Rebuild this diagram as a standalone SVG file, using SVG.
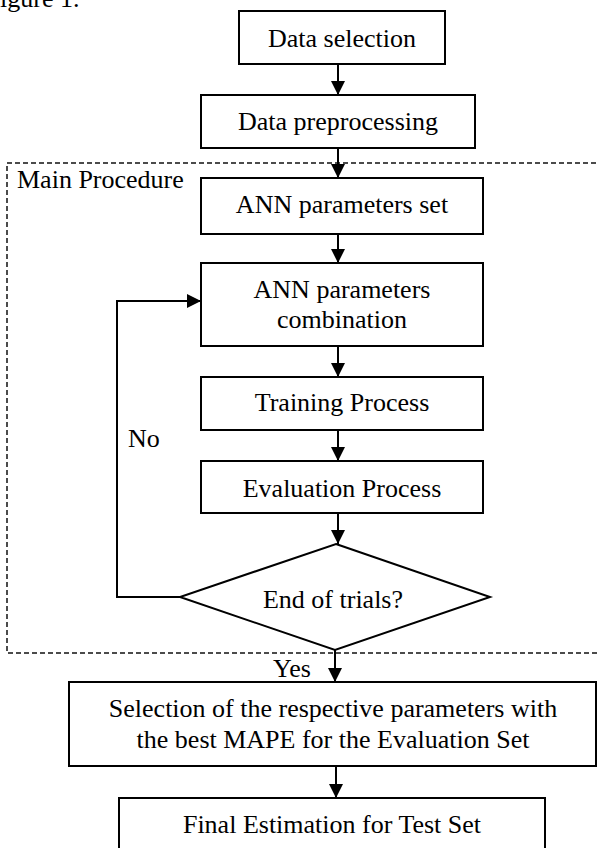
<svg xmlns="http://www.w3.org/2000/svg" width="599" height="848" viewBox="0 0 599 848">
  <style>
    text { font-family: "Liberation Serif", "Times New Roman", serif; font-size: 26px; fill: #000; }
    .mid { text-anchor: middle; }
    .box { fill: #fff; stroke: #000; stroke-width: 2; }
    .conn { fill: none; stroke: #000; stroke-width: 2; }
    .dash { fill: none; stroke: #111; stroke-width: 1.5; stroke-dasharray: 5 3; }
  </style>
  <defs>
    <marker id="arrow" viewBox="0 0 14 14" refX="14" refY="7" markerWidth="14" markerHeight="14" markerUnits="userSpaceOnUse" orient="auto">
      <path d="M0,0 L14,7 L0,14 z" fill="#000"/>
    </marker>
  </defs>
  <rect width="599" height="848" fill="#fff"/>

  <text x="0" y="7">igure 1.</text>

  <g id="main-procedure">
    <rect class="dash" x="7" y="163" width="610" height="490"/>
    <text x="17" y="188">Main Procedure</text>
  </g>

  <g id="connectors">
    <line class="conn" x1="338" y1="64" x2="338" y2="95" marker-end="url(#arrow)"/>
    <line class="conn" x1="338" y1="148" x2="338" y2="178" marker-end="url(#arrow)"/>
    <line class="conn" x1="338" y1="234" x2="338" y2="263" marker-end="url(#arrow)"/>
    <line class="conn" x1="338" y1="346" x2="338" y2="377" marker-end="url(#arrow)"/>
    <line class="conn" x1="338" y1="430" x2="338" y2="461" marker-end="url(#arrow)"/>
    <line class="conn" x1="338" y1="513" x2="338" y2="544" marker-end="url(#arrow)"/>
    <line class="conn" x1="335" y1="650" x2="335" y2="682" marker-end="url(#arrow)"/>
    <line class="conn" x1="336" y1="766" x2="336" y2="798" marker-end="url(#arrow)"/>
    <polyline class="conn" points="180,597 117,597 117,301 201,301" marker-end="url(#arrow)"/>
    <text x="128" y="447">No</text>
    <text x="273" y="677">Yes</text>
  </g>

  <g id="data-selection">
    <rect class="box" x="239" y="11" width="206" height="53"/>
    <text class="mid" x="342" y="47">Data selection</text>
  </g>
  <g id="data-preprocessing">
    <rect class="box" x="201" y="95" width="274" height="53"/>
    <text class="mid" x="338" y="130">Data preprocessing</text>
  </g>
  <g id="ann-parameters-set">
    <rect class="box" x="201" y="178" width="282" height="56"/>
    <text class="mid" x="342" y="213">ANN parameters set</text>
  </g>
  <g id="ann-parameters-combination">
    <rect class="box" x="201" y="263" width="282" height="83"/>
    <text class="mid" x="342" y="298">ANN parameters</text>
    <text class="mid" x="342" y="328">combination</text>
  </g>
  <g id="training-process">
    <rect class="box" x="201" y="377" width="282" height="53"/>
    <text class="mid" x="342" y="411">Training Process</text>
  </g>
  <g id="evaluation-process">
    <rect class="box" x="201" y="461" width="282" height="52"/>
    <text class="mid" x="342" y="497">Evaluation Process</text>
  </g>
  <g id="end-of-trials">
    <polygon class="box" points="336,544 490,597 335,650 180,597"/>
    <text class="mid" x="333" y="608">End of trials?</text>
  </g>
  <g id="selection-best">
    <rect class="box" x="69" y="682" width="527" height="84"/>
    <text class="mid" x="333" y="717">Selection of the respective parameters with</text>
    <text class="mid" x="333" y="748">the best MAPE for the Evaluation Set</text>
  </g>
  <g id="final-estimation">
    <rect class="box" x="119" y="798" width="426" height="70"/>
    <text class="mid" x="332" y="833">Final Estimation for Test Set</text>
  </g>
</svg>
